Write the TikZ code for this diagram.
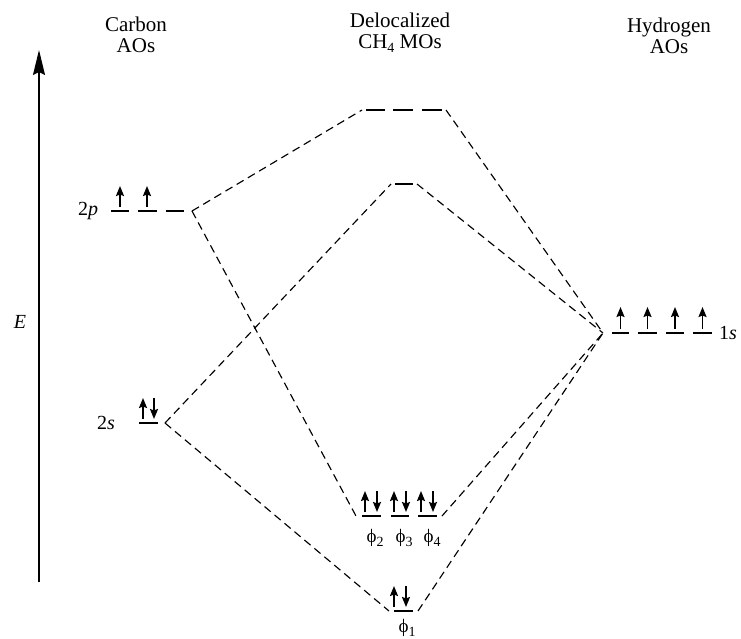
\documentclass[tikz,border=0pt]{standalone}
\usepackage{fontspec}
\setmainfont{Liberation Serif}
\usetikzlibrary{arrows.meta}
\newcommand\lowsub[1]{\raisebox{-0.4ex}{\fontsize{14}{14}\selectfont #1}}
\tikzset{
  lev/.style={line width=1.5pt},
  conn/.style={line width=1.15pt, dash pattern=on 8pt off 5pt},
  eup/.style={line width=1.8pt, -{Stealth[length=10pt,width=8pt,inset=1.5pt]}},
  title/.style={font=\fontsize{21}{21}\selectfont, align=center, inner sep=0pt},
  lbl/.style={font=\fontsize{20}{20}\selectfont, inner sep=0pt},
  phil/.style={font=\fontsize{19}{19}\selectfont, inner sep=0pt},
}
\begin{document}
\begin{tikzpicture}[x=1pt,y=-1pt]
\useasboundingbox (0,0) rectangle (741,638);

% titles
\node[title] (tc) at (136,35) {Carbon\\AOs};
\node[title] (tm) at (400,33) {Delocalized\\CH\lowsub{4} MOs};
\node[title] (th) at (669,36) {Hydrogen\\AOs};

% energy axis
\coordinate (ax0) at (39,582);
\coordinate (ax1) at (39,50);
\draw[line width=1.6pt, -{Stealth[length=25pt,width=12pt,inset=3pt]}] (ax0) -- (ax1);
\node[lbl] (E) at (20,322) {\textit{E}};

% ---------- Carbon 2p ----------
\foreach \a/\b in {111/129,138/157,166/184}
  \draw[lev] (\a,211) -- (\b,211);
\foreach \x in {120,147}
  \draw[eup] (\x,207) -- (\x,186);
\node[lbl] (l2p) at (88,211) {2\textit{p}};
\coordinate (c2p) at (192,211);

% ---------- Carbon 2s ----------
\draw[lev] (139,423) -- (158,423);
\draw[eup] (143,419) -- (143,398);
\draw[eup] (154,398) -- (154,419);
\node[lbl] (l2s) at (106,423) {2\textit{s}};
\coordinate (c2s) at (165,423);

% ---------- MO t2* ----------
\foreach \a/\b in {366/385,393/413,422/442}
  \draw[lev] (\a,110) -- (\b,110);
\coordinate (tsL) at (362,110);
\coordinate (tsR) at (446,110);

% ---------- MO a1* ----------
\draw[lev] (395,184) -- (413,184);
\coordinate (asL) at (391,184);
\coordinate (asR) at (417,184);

% ---------- MO t2 ----------
\foreach \a/\b in {362/381,391/409,418/437}{
  \draw[lev] (\a,516) -- (\b,516);
  \draw[eup] (\a+3,512) -- (\a+3,491);
  \draw[eup] (\a+15,491) -- (\a+15,512);
}
\coordinate (tL) at (356,516);
\coordinate (tR) at (442,516);
\node[phil] (ph2) at (375,538) {ϕ\lowsub{2}};
\node[phil] (ph3) at (404,538) {ϕ\lowsub{3}};
\node[phil] (ph4) at (432,538) {ϕ\lowsub{4}};

% ---------- MO a1 ----------
\draw[lev] (394,611) -- (413,611);
\draw[eup] (394,607) -- (394,586);
\draw[eup] (406,586) -- (406,607);
\coordinate (aL) at (389,611);
\coordinate (aR) at (418,611);
\node[phil] (ph1) at (407,628) {ϕ\lowsub{1}};

% ---------- Hydrogen 1s ----------
\foreach \a/\b in {612/629,638/657,666/684,693/712}{
  \draw[lev] (\a,333) -- (\b,333);
  \draw[eup] ({(\a+\b)/2},329) -- ({(\a+\b)/2},307);
}
\node[lbl] (l1s) at (728,333) {1\textit{s}};
\coordinate (h1s) at (603,333);

% ---------- connectors ----------
\draw[conn] (c2p) -- (tsL);
\draw[conn] (c2p) -- (tL);
\draw[conn] (c2s) -- (asL);
\draw[conn] (c2s) -- (aL);
\draw[conn] (tsR) -- (h1s);
\draw[conn] (asR) -- (h1s);
\draw[conn] (tR) -- (h1s);
\draw[conn] (aR) -- (h1s);
\end{tikzpicture}
\end{document}
